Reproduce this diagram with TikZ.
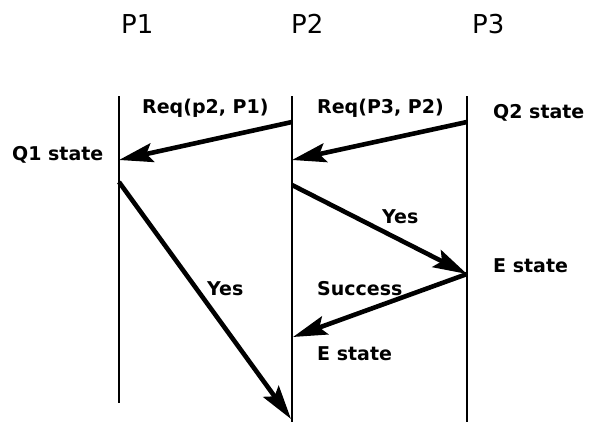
\documentclass[tikz,border=0pt]{standalone}
\usepackage{fontspec}
\setmainfont{DejaVu Sans}
\usetikzlibrary{arrows.meta}
\begin{document}
\begin{tikzpicture}[x=1pt,y=-1pt,
  lifeline/.style={line width=2.8pt},
  msg/.style={line width=4.6pt,-{Stealth[length=34pt,width=19pt,inset=6pt]}},
  title/.style={inner sep=0pt,anchor=base west,font=\fontsize{26}{28}\selectfont},
  lbl/.style={inner sep=0pt,anchor=base west,font=\bfseries\fontsize{19}{21}\selectfont}]
\useasboundingbox (0,0) rectangle (593,423);
% lifeline end points
\coordinate (t1) at (119,96);  \coordinate (b1) at (119,403);
\coordinate (t2) at (292,96);  \coordinate (b2) at (292,422);
\coordinate (t3) at (467,96);  \coordinate (b3) at (467,422);
\draw[lifeline] (t1) -- (b1);
\draw[lifeline] (t2) -- (b2);
\draw[lifeline] (t3) -- (b3);
% message points
\coordinate (m1s) at (292,122); \coordinate (m1e) at (119,160);
\coordinate (m2s) at (467,122); \coordinate (m2e) at (292,160);
\coordinate (m3s) at (119,182); \coordinate (m3e) at (291,419);
\coordinate (m4s) at (292,185); \coordinate (m4e) at (467,274);
\coordinate (m5s) at (467,274); \coordinate (m5e) at (293,337);
\draw[msg] (m1s) -- (m1e);
\draw[msg] (m2s) -- (m2e);
\draw[msg] (m3s) -- (m3e);
\draw[msg] (m4s) -- (m4e);
\draw[msg] (m5s) -- (m5e);
% titles
\node[title] (p1) at (121,33) {P1};
\node[title] (p2) at (291,33) {P2};
\node[title] (p3) at (472,33) {P3};
% labels
\node[lbl] (r1) at (142,113) {Req(p2, P1)};
\node[lbl] (r2) at (317,113) {Req(P3, P2)};
\node[lbl] (q2) at (493,118) {Q2 state};
\node[lbl] (q1) at (12,160) {Q1 state};
\node[lbl] (y1) at (382,223) {Yes};
\node[lbl] (e1) at (493,272) {E state};
\node[lbl] (y2) at (207,295) {Yes};
\node[lbl] (s1) at (317,295) {Success};
\node[lbl] (e2) at (317,360) {E state};
\end{tikzpicture}
\end{document}
